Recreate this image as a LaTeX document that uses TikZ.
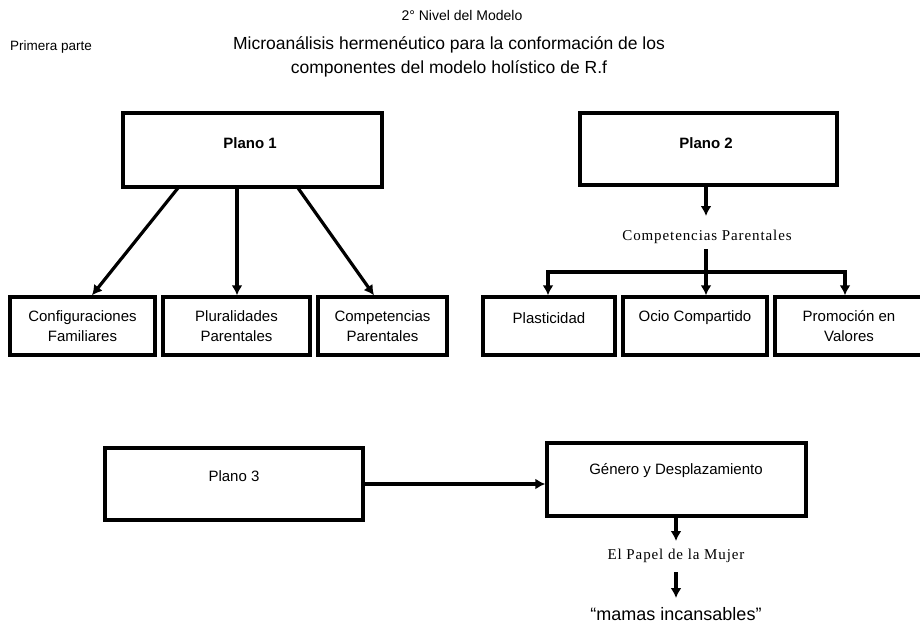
\documentclass[tikz,border=0pt]{standalone}
\usepackage{fontspec}
\setmainfont{Liberation Sans}
\newfontfamily\serifx[LetterSpace=6]{Liberation Serif}
\usetikzlibrary{arrows.meta}
\begin{document}
\begin{tikzpicture}[x=1pt,y=-1pt,
  box/.style={draw,line width=3.4pt,rectangle,inner sep=0pt,align=center,font=\fontsize{15}{20}\selectfont},
  arr/.style={line width=3.2pt,-{Latex[length=10pt,width=11pt]}},
  lbl/.style={inner sep=0pt,align=center}]
\useasboundingbox[fill=white] (0,0) rectangle (920,626);
% headers
\node[lbl,font=\fontsize{14}{16}\selectfont] (niv) at (462,15) {2° Nivel del Modelo};
\node[lbl,font=\fontsize{13.5}{15}\selectfont,anchor=west] (prim) at (10,47) {Primera parte};
\node[lbl,font=\fontsize{17.5}{24}\selectfont] (tit) at (449,57) {Microanálisis hermenéutico para la conformación de los\\componentes del modelo holístico de R.f};
% Plano 1
\node[box,minimum width=259pt,minimum height=74pt] (p1) at (252.5,150) {};
\node[lbl,font=\bfseries\fontsize{15}{16}\selectfont] (p1t) at (250,143) {Plano 1};
\node[box,minimum width=145pt,minimum height=58pt] (cf) at (82.5,326) {Configuraciones\\Familiares};
\node[box,minimum width=147pt,minimum height=58pt] (pl) at (236.5,326) {Pluralidades\\Parentales};
\node[box,minimum width=129pt,minimum height=58pt] (cp) at (382.5,326) {Competencias\\Parentales};
\coordinate (a1) at (178,188);
\coordinate (a2) at (237,188);
\coordinate (a3) at (298,188);
\draw[arr] (a1) -- (cf.north -| 92,0);
\draw[arr] (a2) -- (pl.north -| 237,0);
\draw[arr] (a3) -- (cp.north -| 374,0);
% Plano 2
\node[box,minimum width=257pt,minimum height=72pt] (p2) at (708.5,149) {};
\node[lbl,font=\bfseries\fontsize{15}{16}\selectfont] (p2t) at (706,143) {Plano 2};
\node[lbl,font=\serifx\fontsize{15}{17}\selectfont] (cpar) at (707,237) {Competencias Parentales};
\draw[arr] (p2.south -| 706,0) -- (706,216);
\node[box,minimum width=132pt,minimum height=58pt] (pla) at (549,326) {};
\node[lbl,font=\fontsize{15}{16}\selectfont] (plat) at (549,318) {Plasticidad};
\node[box,minimum width=144pt,minimum height=58pt] (oc) at (695,326) {};
\node[lbl,font=\fontsize{15}{16}\selectfont] (oct) at (695,318) {Ocio Compartido};
\node[box,minimum width=148pt,minimum height=58pt] (pv) at (849,326) {Promoción en\\Valores};
\coordinate (br) at (706,272);
\coordinate (brtop) at (706,249);
\draw[line width=3.2pt] (brtop) -- (br);
\draw[arr] (br) -| (pla.north -| 548,0);
\draw[arr] (br) -- (oc.north -| 706,0);
\draw[arr] (br) -| (pv.north -| 845,0);
% Plano 3
\node[box,minimum width=258pt,minimum height=72pt] (p3) at (234,484) {};
\node[lbl,font=\fontsize{15}{16}\selectfont] (p3t) at (234,476) {Plano 3};
\node[box,minimum width=259pt,minimum height=73pt] (gd) at (676.5,479.5) {};
\node[lbl,font=\fontsize{15}{16}\selectfont] (gdt) at (676,471) {Género y Desplazamiento};
\draw[arr] (p3.east |- 0,484) -- (gd.west |- 0,484);
\node[lbl,font=\serifx\fontsize{15}{17}\selectfont] (pm) at (676,556) {El Papel de la Mujer};
\draw[arr] (gd.south -| 676,0) -- (676,541);
\node[lbl,font=\fontsize{18}{20}\selectfont] (mi) at (676,614) {“mamas incansables”};
\draw[arr] (676,572) -- (676,598);
\end{tikzpicture}
\end{document}
